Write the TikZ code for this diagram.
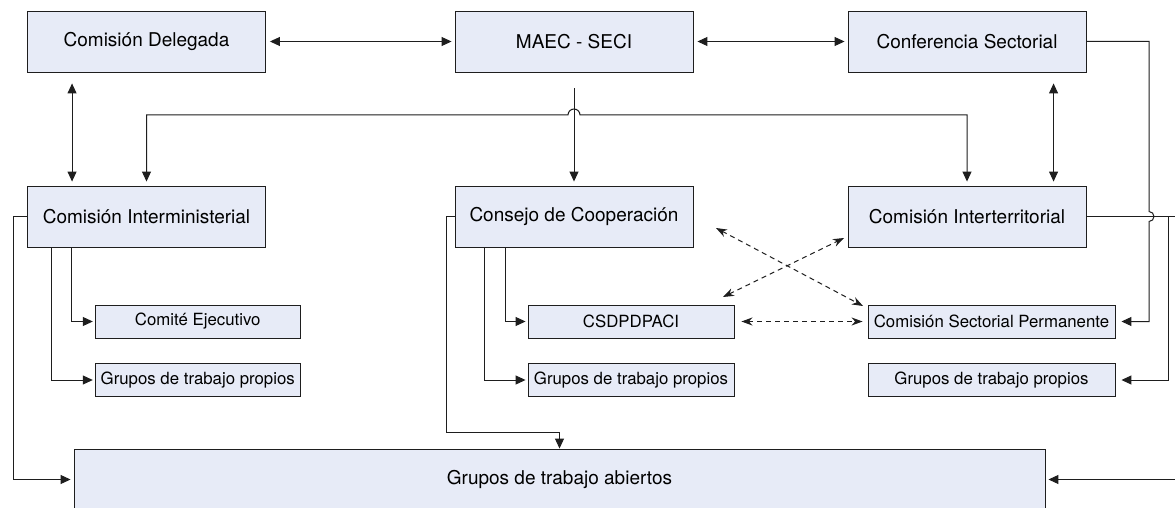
\documentclass[tikz,border=0pt]{standalone}
\usepackage{fontspec}
\setmainfont{TeX Gyre Heros}
\usetikzlibrary{arrows.meta,calc}
\definecolor{boxfill}{RGB}{231,235,247}
\definecolor{linec}{RGB}{30,30,30}
\begin{document}
\begin{tikzpicture}[x=1pt,y=-1pt,
  bigbox/.style={draw=linec,fill=boxfill,line width=0.9pt,minimum width=238pt,minimum height=61pt,inner sep=0pt,font=\fontsize{19}{22}\selectfont},
  smallbox/.style={draw=linec,fill=boxfill,line width=0.9pt,minimum height=33pt,inner sep=0pt,font=\fontsize{16.8}{20}\selectfont},
  plainline/.style={draw=linec,line width=1pt},
  conn/.style={plainline,-{Triangle[length=10pt,width=9pt]}},
  biconn/.style={plainline,{Triangle[length=10pt,width=9pt]}-{Triangle[length=10pt,width=9pt]}},
  dconn/.style={draw=linec,line width=1pt,dash pattern=on 5pt off 4pt,{Stealth[length=11pt,width=8pt]}-{Stealth[length=11pt,width=8pt]}},
]
\useasboundingbox (0,0) rectangle (1175,508);
\clip (0,0) rectangle (1175,508);
\fill[white] (0,0) rectangle (1175,508);

% nodes
\node[bigbox] (del) at (146.5,41.5) {Comisión Delegada};
\node[bigbox] (maec) at (574,41.5) {MAEC - SECI};
\node[bigbox] (conf) at (967,41.5) {Conferencia Sectorial};
\node[bigbox] (inm) at (146.5,216.5) {Comisión Interministerial};
\node[bigbox] (cons) at (574,216.5) {Consejo de Cooperación};
\node[bigbox] (intt) at (967,216.5) {Comisión Interterritorial};
\node[smallbox,minimum width=205pt] (com) at (197.75,321.5) {Comité Ejecutivo};
\node[smallbox,minimum width=205pt] (gl) at (197.75,380) {Grupos de trabajo propios};
\node[smallbox,minimum width=206pt] (csd) at (631,321.5) {CSDPDPACI};
\node[smallbox,minimum width=206pt] (gm) at (631,380) {Grupos de trabajo propios};
\node[smallbox,minimum width=247pt] (csp) at (991.5,321.5) {Comisión Sectorial Permanente};
\node[smallbox,minimum width=247pt] (gr) at (991.5,380) {Grupos de trabajo propios};
\node[bigbox,minimum width=971pt] (abi) at (559.5,479.5) {Grupos de trabajo abiertos};

% helper coordinates
\coordinate (lf) at (13.4,479.5);
\coordinate (cf) at (446,432);
\coordinate (rv) at (1149,211.5);
\coordinate (rj) at (1168,216.5);
\coordinate (re) at (1190,216.5);
\coordinate (da1) at (716,228);
\coordinate (da2) at (863,306);
\coordinate (db1) at (723,297);
\coordinate (db2) at (844,238);

% top row
\draw[biconn,shorten <=4pt,shorten >=3pt] (del.east) -- (maec.west);
\draw[biconn,shorten <=4pt,shorten >=3pt] (maec.east) -- (conf.west);
\draw[biconn,shorten <=11pt,shorten >=4pt] ($(del.south west)+(45,0)$) -- ($(inm.north west)+(45,0)$);
\draw[biconn,shorten <=11pt,shorten >=4pt] ($(conf.south west)+(206,0)$) -- ($(intt.north west)+(206,0)$);
\draw[conn,shorten <=16pt,shorten >=4pt] (maec.south) -- (cons.north);
\draw[biconn,shorten <=4pt,shorten >=4pt] (inm.north) |- (568,115) arc[start angle=180,end angle=360,radius=6] -| (intt.north);

% left group
\draw[conn,shorten >=3pt] (inm.west) -| (lf) -- (abi.west);
\draw[conn,shorten >=2pt] ($(inm.south west)+(24.4,0)$) |- (gl.west);
\draw[conn,shorten >=2pt] ($(inm.south west)+(44.7,0)$) |- (com.west);

% middle group
\draw[conn] (cons.west) -| (cf) -| (abi.north);
\draw[conn,shorten >=2pt] ($(cons.south west)+(30,0)$) |- (gm.west);
\draw[conn,shorten >=2pt] ($(cons.south west)+(51,0)$) |- (csd.west);

% right group
\draw[conn,shorten >=6pt] (conf.east) -| (rv) arc[start angle=-90,end angle=90,radius=5] |- (csp.east);
\draw[conn,shorten >=3pt] (intt.east) -- (re) |- (abi.east);
\draw[conn,shorten >=6pt] (rj) |- (gr.east);

% dashed relations
\draw[dconn] (da1) -- (da2);
\draw[dconn] (db1) -- (db2);
\draw[dconn,shorten <=7pt,shorten >=5pt] (csd.east) -- (csp.west);
\end{tikzpicture}
\end{document}
